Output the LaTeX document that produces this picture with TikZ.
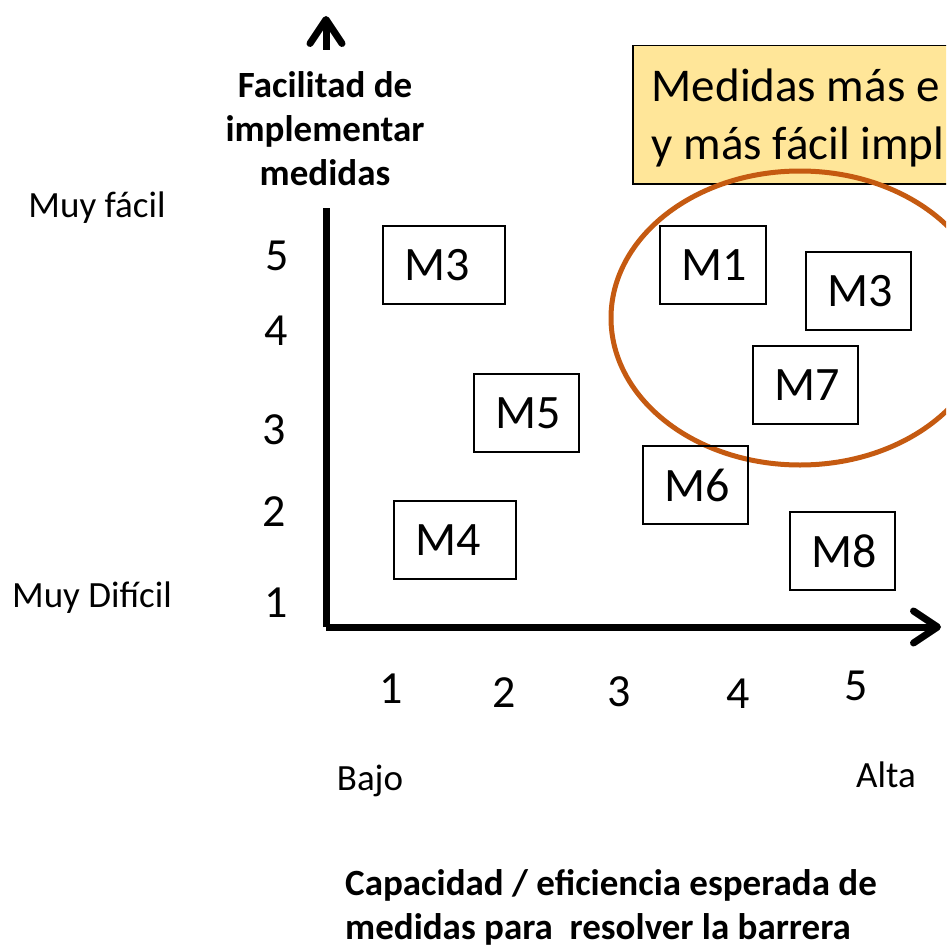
\documentclass[tikz,border=0pt]{standalone}
\usepackage{fontspec}
\setmainfont{Carlito}
\usetikzlibrary{arrows.meta}
\definecolor{notegold}{HTML}{FFE699}
\definecolor{ringorange}{HTML}{C55A11}
\newcommand{\boxfont}{\fontsize{48}{58}\selectfont} % Measure boxes.
\newcommand{\medfont}{\fontsize{46}{56}\selectfont} % Axis numbers.
\newcommand{\notefont}{\fontsize{47}{58}\selectfont} % Yellow note.
\newcommand{\smallfont}{\fontsize{37}{44}\selectfont} % Axis titles and ends.

\begin{document}
\begin{tikzpicture}[x=1pt, y=-1pt,
  measure/.style={draw, line width=2pt, anchor=north west, minimum height=78pt,
    inner xsep=21pt, inner ysep=0pt, align=flush left, font=\boxfont},
  note/.style={draw, fill=notegold, line width=1.5pt, anchor=north west,
    minimum height=138pt, text width=420pt, inner xsep=19pt, align=flush left, font=\notefont},
  axis/.style={line width=7pt, -{Straight Barb[length=24pt, width=32pt, round]}},
  title/.style={font=\smallfont\bfseries, align=center},
  tick/.style={font=\medfont, inner sep=0pt},
  level/.style={font=\smallfont, inner sep=0pt}]
\useasboundingbox (0,0) rectangle (946,950);
\clip (0,0) rectangle (946,950);

% axes
\coordinate (origin) at (326,627);
\coordinate (ytip) at (326,16);
\coordinate (xtip) at (941,627);
\draw[axis] (origin) -- (ytip);
\draw[axis] (origin) -- (xtip);
\node[title, fill=white, inner ysep=22pt, inner xsep=4pt] (ytitle) at (325,129)
  {Facilitad de\\implementar\\medidas};
\node[title, anchor=west, align=left, inner sep=0pt] (xtitle) at (345,907)
  {Capacidad / eficiencia esperada de\\medidas para\ \ resolver la barrera};

% axis numbers
\node[tick] (y5) at (277,256) {5};
\node[tick] (y4) at (276,331) {4};
\node[tick] (y3) at (274,430) {3};
\node[tick] (y2) at (274,512) {2};
\node[tick] (y1) at (276,603) {1};
\node[tick] (x1) at (391,689) {1};
\node[tick] (x2) at (504,693) {2};
\node[tick] (x3) at (619,692) {3};
\node[tick] (x4) at (738,694) {4};
\node[tick] (x5) at (856,686) {5};
\node[level] (easy) at (97,208) {Muy fácil};
\node[level] (hard) at (92,598) {Muy Difícil};
\node[level] (low) at (370,781) {Bajo};
\node[level] (high) at (886,775) {Alta};

% note and highlight
\node[note] (goal) at (632,45) {\rule{0pt}{40pt}Medidas más e\\y más fácil impl};
\draw[ringorange, line width=5pt] (800,318) ellipse [x radius=189pt, y radius=147pt];

% measures
\node[measure, text width=80pt] (m3a) at (382,225) {M3};
\node[measure, text width=63pt] (m5) at (473,373) {M5};
\node[measure, text width=64pt] (m1) at (659,225) {M1};
\node[measure, text width=63pt] (m3b) at (805,251) {M3};
\node[measure, text width=63pt] (m7) at (752,345) {M7};
\node[measure, text width=63pt] (m6) at (642,445) {M6};
\node[measure, text width=80pt] (m4) at (393,500) {M4};
\node[measure, text width=63pt] (m8) at (789,511) {M8};
\end{tikzpicture}
\end{document}
